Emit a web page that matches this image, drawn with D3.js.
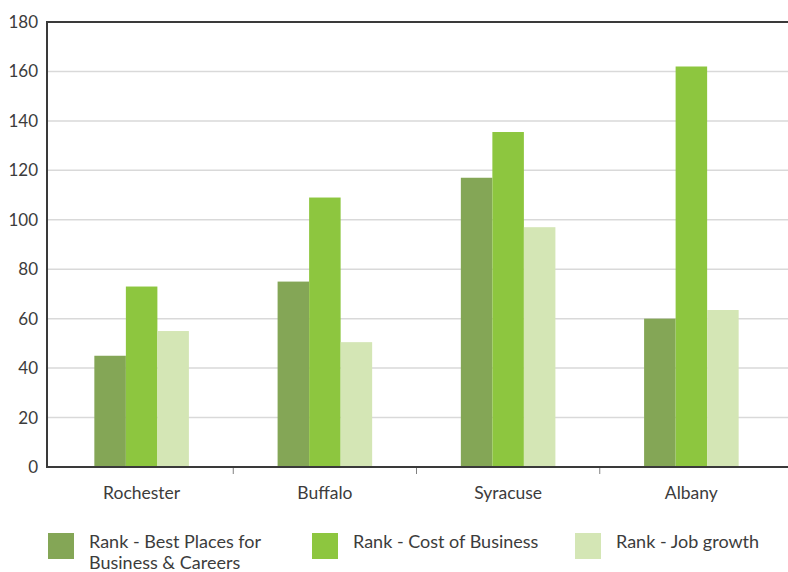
<!DOCTYPE html>
<html>
<head>
<meta charset="utf-8">
<script src="https://cdn.jsdelivr.net/npm/d3@7"></script>
<style>
  body { margin: 0; background: #fff; }
  svg text { font-family: Lato, "Open Sans", sans-serif; fill: #3c3c3c; }
</style>
</head>
<body>
<div id="chart"></div>
<script>
// data
const cities = ["Rochester", "Buffalo", "Syracuse", "Albany"];
const seriesNames = ["Rank - Best Places for Business & Careers", "Rank - Cost of Business", "Rank - Job growth"];
const bestPlaces = [45, 75, 117, 60];
const costOfBusiness = [73, 109, 135.5, 162];
const jobGrowth = [55, 50.5, 97, 63.5];
const yTicks = [0, 20, 40, 60, 80, 100, 120, 140, 160, 180];

const seriesValues = [bestPlaces, costOfBusiness, jobGrowth];
const colors = ["#84a656", "#8dc63f", "#d4e6b5"];

const width = 788, height = 572;
const plot = { left: 47, top: 22, bottom: 467, right: 788 };

const svg = d3.select("#chart")
  .append("svg")
  .attr("width", width)
  .attr("height", height);

// scales
const x = d3.scaleBand().domain(cities).range([50, 783]);
const groupW = x.bandwidth() * 0.516;
const xs = d3.scaleBand().domain(d3.range(seriesNames.length)).range([0, groupW]);
const y = d3.scaleLinear().domain([0, 180]).range([plot.bottom, plot.top]);

// gridlines
svg.append("g")
  .selectAll("line")
  .data(yTicks.filter(d => d > 0 && d < 180))
  .join("line")
  .attr("x1", plot.left)
  .attr("x2", plot.right)
  .attr("y1", d => y(d))
  .attr("y2", d => y(d))
  .attr("stroke", "#d9d9d9")
  .attr("stroke-width", 1.5);

// bars
const groups = svg.append("g")
  .selectAll("g")
  .data(cities)
  .join("g")
  .attr("transform", d => `translate(${x(d) + (x.bandwidth() - groupW) / 2},0)`);

groups.selectAll("rect")
  .data((c, i) => seriesValues.map((vals, s) => ({ s: s, v: vals[i] })))
  .join("rect")
  .attr("x", d => xs(d.s))
  .attr("width", xs.bandwidth())
  .attr("y", d => y(d.v))
  .attr("height", d => y(0) - y(d.v))
  .attr("fill", d => colors[d.s]);

// frame: top border and left axis line
svg.append("line")
  .attr("x1", plot.left).attr("x2", plot.right)
  .attr("y1", y(180)).attr("y2", y(180))
  .attr("stroke", "#3a3a3a").attr("stroke-width", 2);

svg.append("line")
  .attr("x1", plot.left).attr("x2", plot.left)
  .attr("y1", y(180) - 1).attr("y2", y(0))
  .attr("stroke", "#3a3a3a").attr("stroke-width", 2);

// y labels
svg.append("g")
  .selectAll("text")
  .data(yTicks)
  .join("text")
  .attr("x", 38)
  .attr("y", d => y(d) + 6)
  .attr("text-anchor", "end")
  .style("font-size", "17px")
  .text(d => d);

// x axis
const xAxis = svg.append("g")
  .attr("transform", `translate(0,${y(0)})`);

xAxis.append("line")
  .attr("x1", plot.left - 1).attr("x2", plot.right)
  .attr("stroke", "#3a3a3a").attr("stroke-width", 2);

xAxis.selectAll(".tick")
  .data(cities.slice(1))
  .join("line")
  .attr("class", "tick")
  .attr("x1", d => x(d)).attr("x2", d => x(d))
  .attr("y1", 1).attr("y2", 7)
  .attr("stroke", "#808080");

xAxis.selectAll(".label")
  .data(cities)
  .join("text")
  .attr("class", "label")
  .attr("x", d => x(d) + x.bandwidth() / 2)
  .attr("y", 32)
  .attr("text-anchor", "middle")
  .style("font-size", "17.5px")
  .text(d => d);

// legend
const legendX = [48, 312, 575];
const legend = svg.append("g")
  .selectAll("g")
  .data(seriesNames)
  .join("g")
  .attr("transform", (d, i) => `translate(${legendX[i]},533)`);

legend.append("rect")
  .attr("width", 26)
  .attr("height", 26)
  .attr("fill", (d, i) => colors[i]);

legend.append("text")
  .attr("x", 41)
  .attr("y", 15)
  .style("font-size", "18px")
  .each(function (d) {
    const lines = d === seriesNames[0] ? ["Rank - Best Places for", "Business & Careers"] : [d];
    d3.select(this).selectAll("tspan")
      .data(lines)
      .join("tspan")
      .attr("x", 41)
      .attr("dy", (l, i) => i === 0 ? 0 : 21)
      .text(l => l);
  });
</script>
</body>
</html>
